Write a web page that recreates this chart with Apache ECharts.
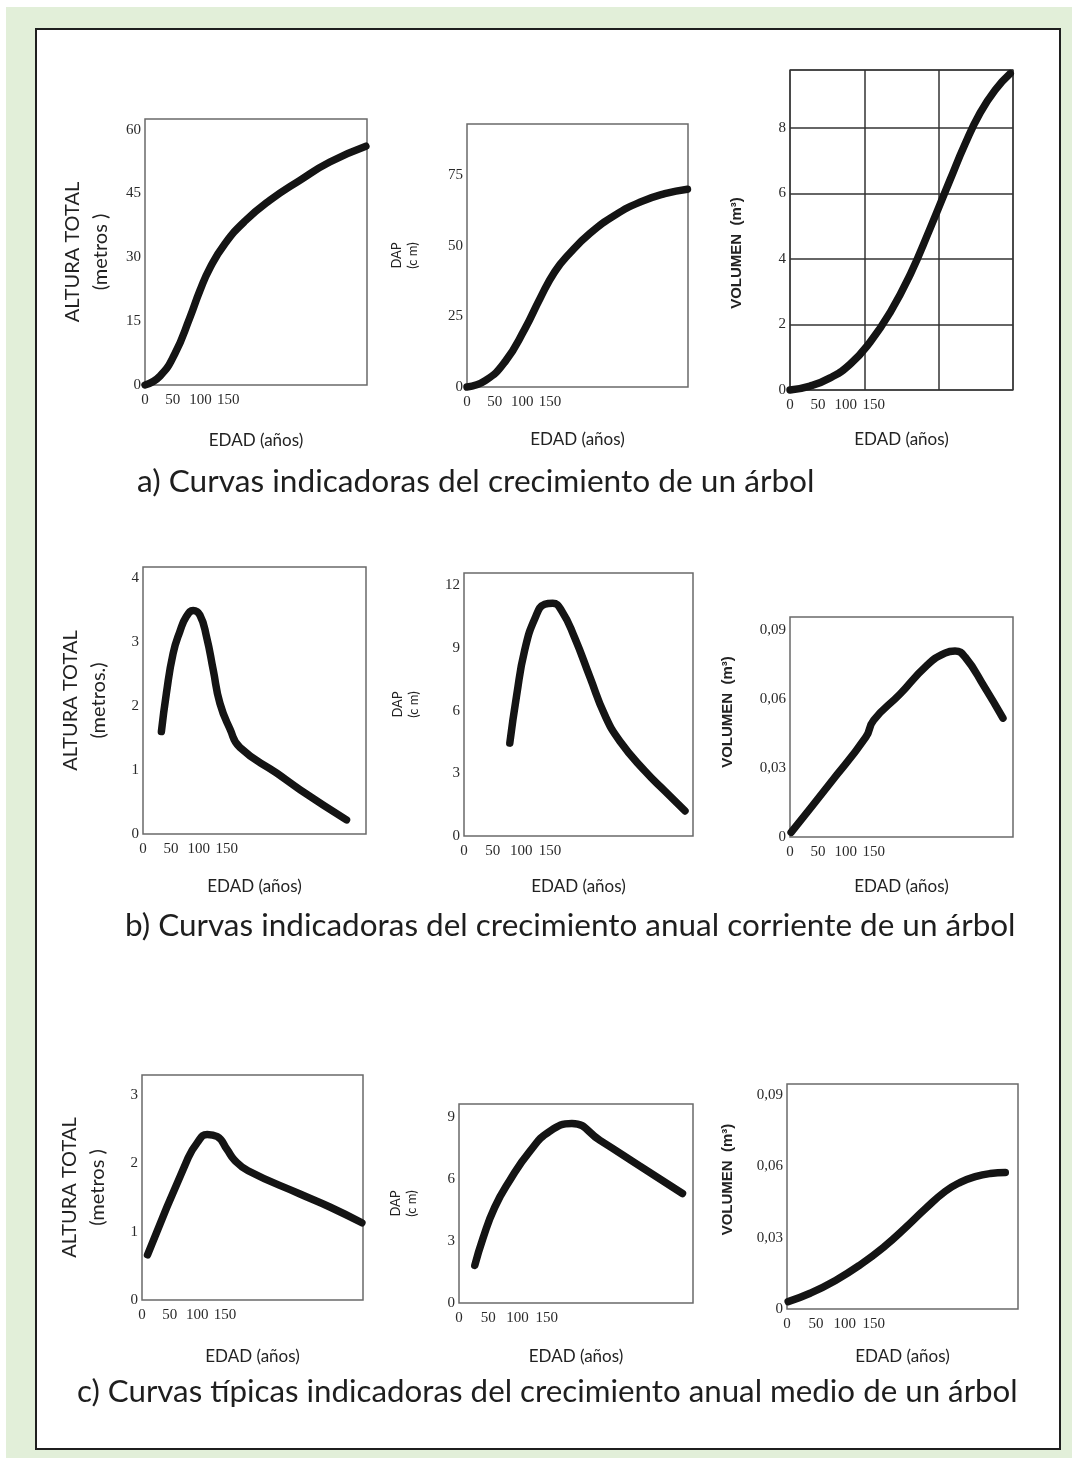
<!DOCTYPE html>
<html><head><meta charset="utf-8">
<script src="https://cdn.jsdelivr.net/npm/echarts@6/dist/echarts.min.js"></script>
<style>html,body{margin:0;padding:0;background:#fff}#c{width:1075px;height:1464px}</style>
</head><body><div id="c"></div>
<script>
// ---------- DATA ----------
const xTickLabels = [0, 50, 100, 150];
const xName = 'EDAD (años)';

// a) cumulative growth
const ageA1 = [0, 27, 54, 81, 99, 117, 144, 180, 225, 279, 333, 398];
const altA1 = [0, 2.1, 7.4, 15.9, 22.2, 27.5, 33.2, 38.5, 43.4, 48.1, 52.4, 56.1];
const ageA2 = [0, 33, 69, 105, 132, 159, 186, 223, 268, 313, 358, 399];
const dapA2 = [0, 2.25, 9.0, 20.7, 31.3, 40.9, 47.4, 54.5, 60.9, 65.5, 68.5, 70.1];
const ageA3 = [0, 36, 72, 108, 144, 180, 216, 251, 287, 314, 341, 368, 395];
const volA3 = [0, 0.12, 0.37, 0.79, 1.47, 2.38, 3.54, 4.92, 6.41, 7.51, 8.46, 9.16, 9.66];

// b) current annual increment
const ageB1 = [33, 42, 54, 66, 78, 90, 102, 114, 126, 138, 156, 174, 240, 282, 365];
const altB1 = [1.6, 2.2, 2.82, 3.16, 3.4, 3.49, 3.42, 3.08, 2.56, 2.04, 1.64, 1.35, 0.95, 0.69, 0.22];
const ageB2 = [80, 92, 106, 124, 141, 155, 171, 193, 220, 246, 272, 316, 351, 386];
const dapB2 = [4.45, 6.75, 8.9, 10.43, 11.1, 11.15, 10.77, 9.52, 7.61, 5.79, 4.55, 3.11, 2.15, 1.2];
const ageB3 = [2, 72, 136, 150, 197, 244, 278, 296, 314, 349, 382];
const volB3 = [0.002, 0.0234, 0.0434, 0.0508, 0.0621, 0.0743, 0.08, 0.0809, 0.0783, 0.0652, 0.0517];

// c) mean annual increment
const ageC1 = [10, 82, 100, 118, 136, 154, 167, 192, 286, 340, 398];
const altC1 = [0.66, 2.05, 2.3, 2.42, 2.39, 2.2, 2.05, 1.89, 1.55, 1.36, 1.13];
const ageC2 = [27, 41, 61, 87, 121, 155, 193, 241, 310, 382];
const dapC2 = [1.82, 3.13, 4.63, 5.94, 7.34, 8.31, 8.69, 7.87, 6.61, 5.3];
const ageC3 = [2, 40, 84, 127, 170, 205, 240, 274, 300, 326, 352, 378];
const volC3 = [0.0031, 0.0066, 0.012, 0.0186, 0.0265, 0.0341, 0.0422, 0.0494, 0.0532, 0.0556, 0.0569, 0.0573];

// y tick labels
const yTicksA1 = ['0', '15', '30', '45', '60'];
const yTicksA2 = ['0', '25', '50', '75'];
const yTicksA3 = ['0', '2', '4', '6', '8'];
const yTicksB1 = ['0', '1', '2', '3', '4'];
const yTicksB2 = ['0', '3', '6', '9', '12'];
const yTicksB3 = ['0', '0,03', '0,06', '0,09'];
const yTicksC1 = ['0', '1', '2', '3'];
const yTicksC2 = ['0', '3', '6', '9'];
const yTicksC3 = ['0', '0,03', '0,06', '0,09'];

const captions = [
  'a) Curvas indicadoras del crecimiento de un árbol',
  'b) Curvas indicadoras del crecimiento anual corriente de un árbol',
  'c) Curvas típicas indicadoras del crecimiento anual medio de un árbol'
];
const nameAltura = 'ALTURA TOTAL';
const nameDap = 'DAP';
const nameVol = 'VOLUMEN  (m³)';

// ---------- LAYOUT ----------
const zip = (a, b) => a.map((v, i) => [v, b[i]]);
const panels = [
  {g: [145, 119, 222, 266], max: 62.5, step: 15, ticks: yTicksA1, data: zip(ageA1, altA1), kind: 'alt', sub: '(metros )', gap: 47},
  {g: [467, 124, 221, 263], max: 93.2, step: 25, ticks: yTicksA2, data: zip(ageA2, dapA2), kind: 'dap', ngap: 46, gap: 44},
  {g: [790, 70, 223, 320], max: 9.77, step: 2, ticks: yTicksA3, data: zip(ageA3, volA3), kind: 'vol', ngap: 46, shift: 23, gap: 41, grid: true},
  {g: [143, 567, 223, 267], max: 4.17, step: 1, ticks: yTicksB1, data: zip(ageB1, altB1), kind: 'alt', sub: '(metros.)', gap: 44},
  {g: [464, 573, 229, 263], max: 12.6, step: 3, ticks: yTicksB2, data: zip(ageB2, dapB2), kind: 'dap', ngap: 42, gap: 42},
  {g: [790, 617, 223, 220], max: 0.0957, step: 0.03, ticks: yTicksB3, data: zip(ageB3, volB3), kind: 'vol', ngap: 55, shift: -15, gap: 41},
  {g: [142, 1075, 221, 225], max: 3.29, step: 1, ticks: yTicksC1, data: zip(ageC1, altC1), kind: 'alt', sub: '(metros )', gap: 48},
  {g: [459, 1104, 234, 199], max: 9.63, step: 3, ticks: yTicksC2, data: zip(ageC2, dapC2), kind: 'dap', ngap: 39, gap: 45},
  {g: [787, 1084, 231, 225], max: 0.0945, step: 0.03, ticks: yTicksC3, data: zip(ageC3, volC3), kind: 'vol', ngap: 52, shift: -17, gap: 39}
];

const SANS = 'Lato';
const SERIF = 'Liberation Serif';
const grids = [], xAxes = [], yAxes = [], series = [];

panels.forEach((p, i) => {
  grids.push({left: p.g[0], top: p.g[1], width: p.g[2], height: p.g[3], show: true,
    borderColor: '#6a6a6a', borderWidth: 1.5, backgroundColor: 'transparent', containLabel: false});
  xAxes.push({
    type: 'value', gridIndex: i, min: 0, max: 400, interval: 50,
    axisLine: {show: false}, axisTick: {show: false}, splitLine: {show: false},
    axisLabel: {margin: 8, color: '#2a2a2a', fontFamily: SERIF, fontSize: 15,
      formatter: v => xTickLabels.includes(v) ? String(v) : ''},
    name: xName, nameLocation: 'middle', nameGap: p.gap,
    nameTextStyle: {fontFamily: SANS, fontSize: 17, color: '#222'}
  });
  let name, nameGap, nts;
  if (p.kind === 'alt') {
    name = nameAltura + '\n' + p.sub; nameGap = 30;
    nts = {fontFamily: SANS, fontSize: 20, lineHeight: 28, color: '#222'};
  } else if (p.kind === 'dap') {
    name = nameDap + '\n(c m)'; nameGap = p.ngap;
    nts = {fontFamily: SANS, fontSize: 13, lineHeight: 16, color: '#222'};
  } else {
    name = nameVol; nameGap = p.ngap;
    const s = p.shift || 0;
    nts = {fontFamily: 'Liberation Sans', fontWeight: 'bold', fontSize: 15, color: '#222',
      padding: s > 0 ? [0, 2 * s, 0, 0] : [0, 0, 0, -2 * s]};
  }
  const step = p.step;
  yAxes.push({
    type: 'value', gridIndex: i, min: 0, max: p.max, interval: step,
    axisLine: {show: false}, axisTick: {show: false},
    splitLine: {show: !!p.grid, lineStyle: {color: '#333', width: 1.5}},
    axisLabel: {margin: 4, color: '#2a2a2a', fontFamily: SERIF, fontSize: 15, showMaxLabel: true,
      formatter: v => {
        const k = v / step, r = Math.round(k);
        return Math.abs(k - r) < 1e-6 && p.ticks[r] !== undefined ? p.ticks[r] : '';
      }},
    name, nameLocation: 'middle', nameRotate: 90, nameGap, nameTextStyle: nts
  });
  series.push({
    type: 'line', xAxisIndex: i, yAxisIndex: i, data: p.data, smooth: 0.5,
    symbol: 'none', clip: false,
    lineStyle: {width: 7.5, color: '#141414', cap: 'round', join: 'round'}
  });
});

// extra x-axis giving the vertical grid lines of the volume panel in a)
xAxes.push({
  type: 'value', gridIndex: 2, position: 'top', min: 0, max: 3, interval: 1,
  axisLine: {show: false}, axisTick: {show: false}, axisLabel: {show: false},
  splitLine: {show: true, lineStyle: {color: '#333', width: 1.5}}
});

// caption fonts fitted to the reference widths
const ctx = document.createElement('canvas').getContext('2d');
function fit(txt, target) {
  ctx.font = '100px ' + SANS;
  return 100 * target / ctx.measureText(txt).width;
}
const capPos = [[137, 482, 678], [125, 926, 891], [77, 1392, 941]];
const captionGraphics = captions.map((t, i) => ({
  type: 'text', left: capPos[i][0], top: capPos[i][1] - 16, z: 10,
  style: {text: t, fontFamily: SANS, fontSize: fit(t, capPos[i][2]), fill: '#1e1e1e',
    textVerticalAlign: 'top'}
}));

const chart = echarts.init(document.getElementById('c'), null, {renderer: 'canvas'});
chart.setOption({
  backgroundColor: '#ffffff',
  animation: false,
  graphic: [
    {type: 'rect', z: -10, shape: {x: 6, y: 7, width: 1066, height: 1451}, style: {fill: '#e2efd9'}},
    {type: 'rect', z: -9, shape: {x: 36, y: 29, width: 1024, height: 1420},
      style: {fill: '#ffffff', stroke: '#1f1f1f', lineWidth: 2}},
    ...captionGraphics
  ],
  grid: grids, xAxis: xAxes, yAxis: yAxes, series
});
</script></body></html>
